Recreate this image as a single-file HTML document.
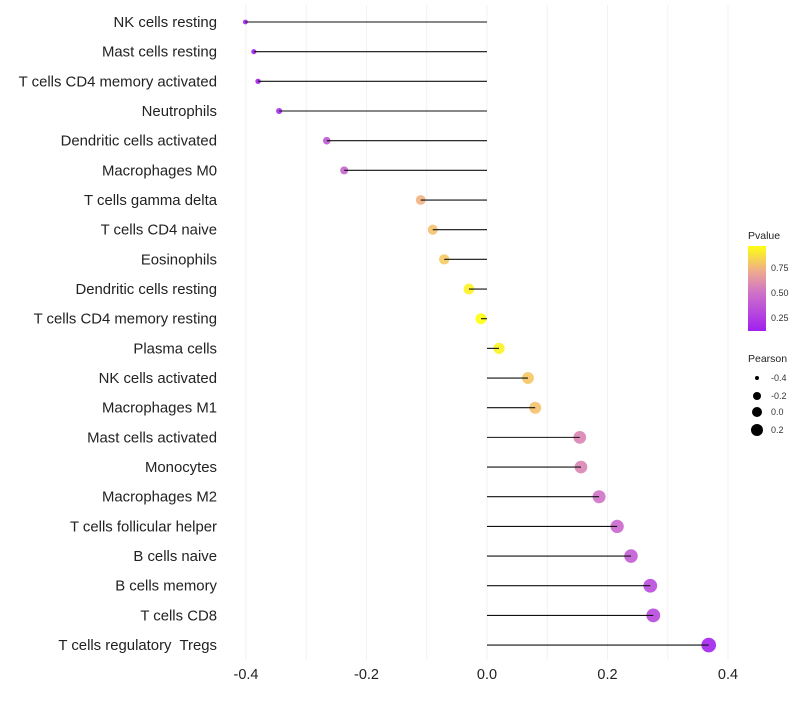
<!DOCTYPE html>
<html><head><meta charset="utf-8"><style>
body{margin:0;background:#fff;font-family:"Liberation Sans",Arial,sans-serif}
</style></head><body>
<svg id="chart" width="800" height="700" xmlns="http://www.w3.org/2000/svg">
<defs><linearGradient id="pg" x1="0" y1="1" x2="0" y2="0">
<stop offset="0" stop-color="#A020F0"/><stop offset="0.45" stop-color="#CF72C8"/><stop offset="0.7" stop-color="#EEAA90"/><stop offset="1" stop-color="#FFFF10"/></linearGradient></defs>
<g id="grid"></g><g id="marks"></g><g id="labels"></g>
<g font-size="10">
<text x="748" y="239" font-size="10.5" fill="#222">Pvalue</text>
<rect x="748" y="246" width="18" height="85" fill="url(#pg)"/>
<text x="771" y="271" font-size="9" fill="#333">0.75</text>
<text x="771" y="296" font-size="9" fill="#333">0.50</text>
<text x="771" y="321" font-size="9" fill="#333">0.25</text>
<text x="748" y="362" font-size="10.5" fill="#222">Pearson</text>
<circle cx="757" cy="378" r="2" fill="#000"/><text x="771" y="381" font-size="9" fill="#333">-0.4</text>
<circle cx="757" cy="396" r="4" fill="#000"/><text x="771" y="399" font-size="9" fill="#333">-0.2</text>
<circle cx="757" cy="412" r="5" fill="#000"/><text x="771" y="415" font-size="9" fill="#333">0.0</text>
<circle cx="757" cy="430" r="6" fill="#000"/><text x="771" y="433" font-size="9" fill="#333">0.2</text>
</g>
</svg>
<script>
const categories=["NK cells resting","Mast cells resting","T cells CD4 memory activated","Neutrophils","Dendritic cells activated","Macrophages M0","T cells gamma delta","T cells CD4 naive","Eosinophils","Dendritic cells resting","T cells CD4 memory resting","Plasma cells","NK cells activated","Macrophages M1","Mast cells activated","Monocytes","Macrophages M2","T cells follicular helper","B cells naive","B cells memory","T cells CD8","T cells regulatory  Tregs"];
const pearson=[-0.401,-0.387,-0.380,-0.345,-0.266,-0.237,-0.110,-0.090,-0.071,-0.030,-0.010,0.020,0.068,0.080,0.154,0.156,0.186,0.216,0.239,0.271,0.276,0.368];
const pvalue=[0.14,0.15,0.15,0.18,0.38,0.44,0.74,0.78,0.81,0.93,0.97,0.93,0.80,0.78,0.57,0.57,0.50,0.45,0.40,0.32,0.31,0.15];
const xTicks=[-0.4,-0.2,0.0,0.2,0.4];
const xTickLabels=["-0.4","-0.2","0.0","0.2","0.4"];
const NS="http://www.w3.org/2000/svg";
const xs=v=>487+v*602.5;
const ys=i=>22+i*29.67;
function col(p){
 const stops=[[0.13,[160,32,240]],[0.5,[207,114,200]],[0.72,[240,172,140]],[0.97,[255,255,16]]];
 if(p<=stops[0][0])return"rgb("+stops[0][1]+")";
 for(let k=1;k<stops.length;k++){if(p<=stops[k][0]){const a=stops[k-1],b=stops[k],t=(p-a[0])/(b[0]-a[0]);return"rgb("+a[1].map((c,j)=>Math.round(c+(b[1][j]-c)*t)).join(",")+")";}}
 return"rgb(255,255,16)";}
const rs=v=>Math.sqrt(6+62*(v+0.4));
function mk(t,a,p){const e=document.createElementNS(NS,t);for(const k in a)e.setAttribute(k,a[k]);p.appendChild(e);return e;}
const grid=document.getElementById('grid'),marks=document.getElementById('marks'),labels=document.getElementById('labels');
for(let g=-4;g<=4;g++){const l=mk('line',{x1:xs(g/10),x2:xs(g/10),y1:5,y2:660,stroke:'#f2f2f2','stroke-width':1},grid);

}
xTicks.forEach((v,i)=>{const t=mk('text',{x:xs(v),y:679,'text-anchor':'middle','font-size':14.5,fill:'#222'},labels);t.textContent=xTickLabels[i];

});
categories.forEach((c,i)=>{const y=ys(i),v=pearson[i];
const t=mk('text',{x:217,y:y+5,'text-anchor':'end','font-size':14.9,fill:'#222','xml:space':'preserve',style:'white-space:pre'},labels);t.textContent=c;


const d=mk('circle',{cx:xs(v),cy:y,r:rs(v),fill:col(pvalue[i]),'fill-opacity':0.9},marks);


const l=mk('line',{x1:xs(0),x2:xs(v),y1:y,y2:y,stroke:'#111','stroke-width':1.1},marks);

});
</script>
</body></html>
